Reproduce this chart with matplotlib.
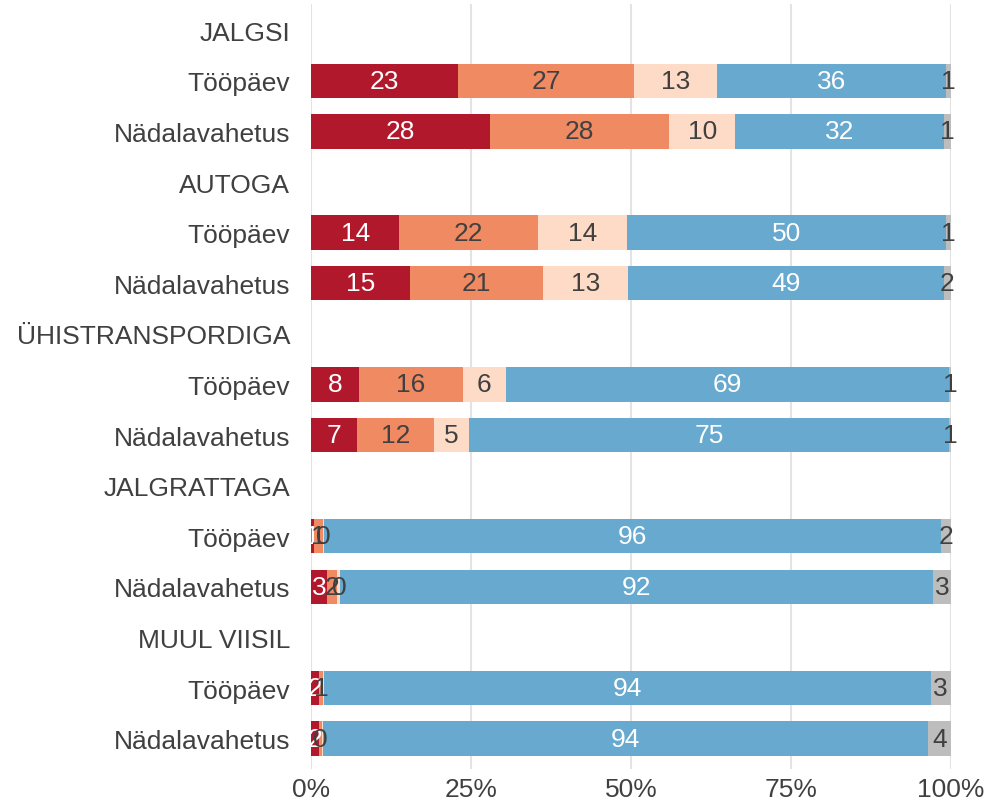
import matplotlib
matplotlib.use("Agg")
import matplotlib.pyplot as plt
import numpy as np

plt.rcParams['font.family'] = ['Liberation Sans', 'DejaVu Sans']

row_labels = ["JALGSI", "Tööpäev", "Nädalavahetus",
              "AUTOGA", "Tööpäev", "Nädalavahetus",
              "ÜHISTRANSPORDIGA", "Tööpäev", "Nädalavahetus",
              "JALGRATTAGA", "Tööpäev", "Nädalavahetus",
              "MUUL VIISIL", "Tööpäev", "Nädalavahetus"]
header_rows = [0, 3, 6, 9, 12]
bar_rows = [1, 2, 4, 5, 7, 8, 10, 11, 13, 14]

seg_red = [23.0, 28.0, 13.8, 15.4, 7.5, 7.2, 0.4, 2.5, 1.3, 1.3]
seg_orange = [27.5, 28.0, 21.7, 20.9, 16.2, 12.0, 1.4, 1.6, 0.6, 0.4]
seg_light = [13.0, 10.3, 13.8, 13.3, 6.7, 5.5, 0.3, 0.5, 0.1, 0.1]
seg_blue = [35.7, 32.6, 49.9, 49.3, 69.3, 75.0, 96.4, 92.6, 94.8, 94.6]
seg_gray = [0.8, 1.1, 0.8, 1.1, 0.3, 0.3, 1.5, 2.8, 3.2, 3.6]

lab_red = ["23", "28", "14", "15", "8", "7", "1", "3", "2", "2"]
lab_orange = ["27", "28", "22", "21", "16", "12", "1", "2", "1", "0"]
lab_light = ["13", "10", "14", "13", "6", "5", "0", "0", "", ""]
lab_blue = ["36", "32", "50", "49", "69", "75", "96", "92", "94", "94"]
lab_gray = ["1", "1", "1", "2", "1", "1", "2", "3", "3", "4"]

x_ticks = [0, 25, 50, 75, 100]
x_ticklabels = ["0%", "25%", "50%", "75%", "100%"]

colors = ["#B2182B", "#EF8A62", "#FDDBC7", "#67A9CF", "#BDBDBD"]
text_colors = ["white", "#404040", "#404040", "white", "#404040"]
segments = [seg_red, seg_orange, seg_light, seg_blue, seg_gray]
labels = [lab_red, lab_orange, lab_light, lab_blue, lab_gray]

fig = plt.figure(figsize=(9.88, 8.04), dpi=100)
ax = fig.add_axes([311/988, 1 - 770/804, 640/988, 765/804])

for x in x_ticks:
    ax.axvline(x, color="#E3E3E3", lw=1.5, zorder=0)

left = np.zeros(len(bar_rows))
for seg, labs, c, tc in zip(segments, labels, colors, text_colors):
    vals = np.array(seg)
    ax.barh(bar_rows, vals, left=left, height=0.68, color=c, zorder=2)
    for y, l, v, t in zip(bar_rows, left, vals, labs):
        if t:
            ax.text(l + v / 2, y, t, ha="center", va="center", color=tc,
                    fontsize=19, zorder=3)
    left = left + vals

ax.set_ylim(14.6, -0.52)
ax.set_xlim(0, 100)
ax.set_yticks(range(len(row_labels)))
ax.set_yticklabels(row_labels)
ax.set_xticks(x_ticks)
ax.set_xticklabels(x_ticklabels)
ax.tick_params(axis="both", length=0, labelsize=19, labelcolor="#404040")
ax.tick_params(axis="y", pad=15)
ax.tick_params(axis="x", pad=6)
for s in ax.spines.values():
    s.set_visible(False)

fig.savefig("out.png", dpi=100)
